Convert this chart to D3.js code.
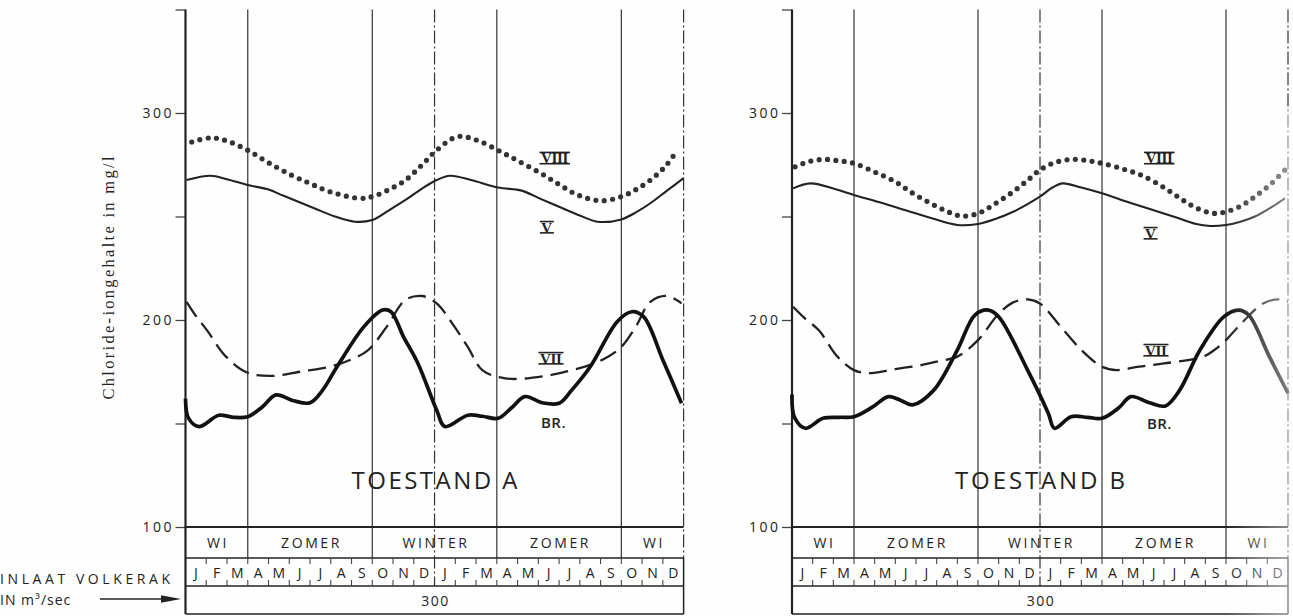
<!DOCTYPE html>
<html>
<head>
<meta charset="utf-8">
<script src="https://cdn.jsdelivr.net/npm/d3@7"></script>
<style>
  body { margin: 0; background: #fff; }
  svg text { font-family: "Open Sans", "DejaVu Sans", sans-serif; fill: #222; }
</style>
</head>
<body>
<svg id="chart" width="1293" height="616"></svg>
<script>
// ---- data (month index 0..24, chloride mg/l) ----
const monthLabels = ["J","F","M","A","M","J","J","A","S","O","N","D","J","F","M","A","M","J","J","A","S","O","N","D"];
const seasons = [["WI", 0, 3], ["ZOMER", 3, 9], ["WINTER", 9, 15], ["ZOMER", 15, 21], ["WI", 21, 24]];
const seasonBreaks = [3, 9, 15, 21];
const yearBreaks = [12, 24];
const yTicks = [100, 150, 200, 250, 300, 350];
const yLabelled = [100, 200, 300];
const inlaatValue = "300";

const a_VIII = [[0.3,286],[1.2,288],[2,286.5],[3,282],[4,276],[5.1,270],[6,266],[6.95,262],[8.4,258.8],[9,259.6],[9.8,263],[10.6,267.6],[11.4,275],[12.1,282],[13.1,288.6],[14,287],[15.06,282],[16,277],[17.1,271],[18,265.5],[18.9,260.4],[20,257.6],[21,259.6],[21.7,263],[22.4,267.6],[23.1,274],[23.7,282]];
const a_V = [[0.05,267.6],[1.2,269.7],[2,268],[3,265.2],[4,263],[4.73,260],[6.2,254],[7.2,250],[8.15,247.5],[9,248.3],[9.8,253],[10.6,258],[11.4,263.5],[12.1,267.6],[12.75,269.7],[13.8,267.5],[15.06,264],[16.2,262.5],[17,259],[18,254.7],[19,250.5],[19.85,247.5],[21,248.6],[21.7,252],[22.4,256.4],[23.2,262.5],[24,268.5]];
const a_VII = [[0.05,208.8],[0.5,202],[1.04,195],[1.95,182.3],[3,174.5],[4.2,173],[5.5,175],[6.95,177.4],[8,181],[8.8,185.5],[9.7,196.8],[10.6,209.7],[11.4,211.6],[12.1,208],[12.85,198.4],[13.6,187],[14.3,175.8],[15.4,171.8],[17.1,172.6],[18.5,175.5],[19.5,178.3],[20.4,182.5],[21,187],[21.7,196.8],[22.4,208.8],[23.2,211.6],[23.9,208]];
const a_BR = [[0,162],[0.15,152.5],[0.67,148.5],[1.6,154],[2.3,153],[3,153.3],[3.7,158],[4.36,163.8],[5.2,161],[6.0,160],[6.6,166],[7.3,177.4],[8.6,196.8],[9.5,204.8],[9.9,204],[10.5,192],[11.2,179],[12.1,156.5],[12.5,148.5],[13.6,154],[14.3,153.5],[15.06,152.5],[15.7,157.5],[16.35,163],[17.2,160],[18,159.8],[18.6,166],[19.5,177.4],[20.8,199.2],[21.5,204],[22.07,201.6],[23,180.7],[23.9,159.8]];

const b_VIII = [[0.15,274],[0.8,276.5],[1.5,277.6],[2.2,277],[3,275.7],[4,271.5],[5,266.8],[5.8,261.5],[6.7,256.4],[7.5,252.5],[8.2,250.2],[9,251.5],[9.8,256],[10.7,262],[11.4,267.5],[12,272.5],[12.7,276],[13.5,277.6],[14.3,277],[15,275.7],[16,273],[16.9,270],[18,264],[18.9,258],[19.6,254],[20.4,251.5],[21,252.3],[21.7,255],[22.4,259.6],[23.2,266],[23.85,272.5]];
const b_V = [[0.05,263.6],[0.9,266],[2,263.5],[3,260.4],[4.2,257],[5.5,253],[6.8,249],[8,245.9],[9,246.4],[9.9,249],[10.7,252.3],[11.4,256],[12,259.6],[12.6,264],[13.1,266],[14,264],[15,261.2],[16.1,257.5],[17.2,254],[18.6,249.5],[19.5,246.5],[20.25,245.4],[21,245.9],[21.7,247.5],[22.4,250],[23.2,254.5],[23.85,258.8]];
const b_VII = [[0.05,206.4],[0.6,201],[1.3,195],[2.2,182.3],[3,175.8],[3.7,174.3],[5,176.3],[6.3,178.3],[7.2,180.3],[8,182.3],[9,190.3],[10,203],[10.7,208.5],[11.4,210],[12,208],[13,196.8],[14,185.5],[15,177.4],[15.7,175.8],[16.8,177.5],[18,179],[19.9,182.3],[20.5,186],[21,190.3],[21.75,198.4],[22.8,208],[23.6,210],[24,208.8]];
const b_BR = [[0,164],[0.12,153],[0.65,147.7],[1.5,152.5],[2.3,153],[3,153.3],[3.9,158],[4.67,163],[5.3,161],[5.84,159],[6.85,166],[8.0,185.5],[8.85,202.4],[9.5,204.8],[10.0,201.6],[11.4,175.8],[12.4,155],[12.7,147.7],[13.5,153.3],[14.3,153],[15,152.5],[15.8,157.5],[16.4,163],[17.3,160],[18.07,158.5],[18.75,166],[19.74,185.5],[20.9,201.6],[21.6,204.8],[22.1,202.4],[23.1,182.3],[24,164.6]];

// curve labels, placed in data coordinates [month, value]
const a_labels = [["VIII", 17.78, 278.3, true], ["V", 17.4, 244.9, true], ["VII", 17.6, 181.6, true], ["BR.", 17.73, 150.7, false]];
const b_labels = [["VIII", 17.76, 278.3, true], ["V", 17.34, 242, true], ["VII", 17.6, 185.5, true], ["BR.", 17.78, 150.2, false]];

// ---- layout ----
const yTop = 9.5, yBase = 527, ySeason = 558, yMonth = 586, yBottom = 614;
const ink = "#222";

const panels = [
  { x0: 185.5, x1: 683.6, title: "TOESTAND A", titleW: 166, VIII: a_VIII, V: a_V, VII: a_VII, BR: a_BR, labels: a_labels },
  { x0: 792, x1: 1288, title: "TOESTAND B", titleW: 170, VIII: b_VIII, V: b_V, VII: b_VII, BR: b_BR, labels: b_labels }
];

const svg = d3.select("#chart");
svg.append("rect").attr("width", 1293).attr("height", 616).attr("fill", "#fefefe");

const y = d3.scaleLinear().domain([100, 350]).range([yBase, yTop]);

panels.forEach(function (p) {
  const x = d3.scaleLinear().domain([0, 24]).range([p.x0, p.x1]);
  const g = svg.append("g");

  // season grid lines (run down through season row)
  g.selectAll(".grid").data(seasonBreaks).enter().append("line")
    .attr("x1", d => x(d)).attr("x2", d => x(d))
    .attr("y1", yTop).attr("y2", ySeason)
    .attr("stroke", "#333").attr("stroke-width", 1.2);

  // year boundaries, dash-dot
  g.selectAll(".year").data(yearBreaks).enter().append("line")
    .attr("x1", d => x(d)).attr("x2", d => x(d))
    .attr("y1", yTop).attr("y2", d => d === 24 ? ySeason : yMonth)
    .attr("stroke", "#333").attr("stroke-width", 1.2)
    .attr("stroke-dasharray", "13,3,2,3");

  // y axis
  const axis = d3.axisLeft(y).tickValues(yTicks).tickSize(10).tickSizeOuter(0).tickPadding(4)
    .tickFormat(d => yLabelled.includes(d) ? String(d) : "");
  const ag = g.append("g").attr("transform", `translate(${p.x0},0)`).call(axis);
  ag.select(".domain").remove();
  ag.selectAll(".tick line").attr("stroke", "#444").attr("stroke-width", 1.3);
  ag.selectAll(".tick text").attr("font-size", 14).attr("fill", "#444")
    .style("letter-spacing", "2.5px").attr("dx", 2.5)
    .style("font-family", "'Open Sans', sans-serif");
  g.append("line").attr("x1", p.x0).attr("x2", p.x0).attr("y1", yTop).attr("y2", yBottom)
    .attr("stroke", ink).attr("stroke-width", 2.2);

  // base line at 100 and table boxes
  g.append("line").attr("x1", p.x0).attr("x2", p.x1).attr("y1", yBase).attr("y2", yBase)
    .attr("stroke", ink).attr("stroke-width", 2.2);
  [ySeason, yMonth, yBottom].forEach(function (yy) {
    g.append("line").attr("x1", p.x0).attr("x2", p.x1).attr("y1", yy).attr("y2", yy)
      .attr("stroke", ink).attr("stroke-width", 1.5);
  });
  g.append("line").attr("x1", p.x1).attr("x2", p.x1).attr("y1", ySeason).attr("y2", yBottom)
    .attr("stroke", ink).attr("stroke-width", 1.5);

  // month ticks
  const inner = d3.range(1, 24).filter(d => d !== 12);
  g.selectAll(".mt").data(inner).enter().append("line")
    .attr("x1", d => x(d)).attr("x2", d => x(d)).attr("y1", ySeason).attr("y2", ySeason + 6)
    .attr("stroke", "#444").attr("stroke-width", 1.1);
  g.selectAll(".mb").data(inner).enter().append("line")
    .attr("x1", d => x(d)).attr("x2", d => x(d)).attr("y1", yMonth - 6).attr("y2", yMonth)
    .attr("stroke", "#444").attr("stroke-width", 1.1);

  // season labels
  g.selectAll(".season").data(seasons).enter().append("text")
    .attr("x", d => x((d[1] + d[2]) / 2) + 1.5).attr("y", 548)
    .attr("text-anchor", "middle").attr("font-size", 14).style("letter-spacing", "2.6px")
    .text(d => d[0]);

  // month labels
  g.selectAll(".month").data(monthLabels).enter().append("text")
    .attr("x", (d, i) => x(i + 0.5)).attr("y", 577.5)
    .attr("text-anchor", "middle").attr("font-size", 14)
    .text(d => d);

  g.append("text").attr("x", x(12) + 1).attr("y", 605.5).attr("text-anchor", "middle")
    .attr("font-size", 14).style("letter-spacing", "1.5px").text(inlaatValue);

  // series
  const line = d3.line().x(d => x(d[0])).y(d => y(d[1])).curve(d3.curveCatmullRom.alpha(0.5));
  g.append("path").attr("d", line(p.VII)).attr("fill", "none").attr("stroke", ink)
    .attr("stroke-width", 2.3).attr("stroke-dasharray", "18,8");
  g.append("path").attr("d", line(p.V)).attr("fill", "none").attr("stroke", ink)
    .attr("stroke-width", 2.1);
  g.append("path").attr("d", line(p.BR)).attr("fill", "none").attr("stroke", "#111")
    .attr("stroke-width", 3.7).attr("stroke-linejoin", "round");
  g.append("path").attr("d", line(p.VIII)).attr("fill", "none").attr("stroke", "#333")
    .attr("stroke-width", 5.2).attr("stroke-linecap", "round").attr("stroke-dasharray", "0,8.4");

  // curve labels
  p.labels.forEach(function (l) {
    const cx = x(l[1]), cy = y(l[2]);
    if (l[3]) {
      const t = g.append("text").attr("x", cx).attr("y", cy + 5.5)
        .attr("text-anchor", "middle").attr("font-size", 15).attr("font-weight", "bold")
        .style("font-family", "'Liberation Serif', serif").attr("fill", "#222")
        .style("letter-spacing", "-0.3px").text(l[0]);
      const bb = t.node().getBBox();
      [cy - 5.5, cy + 5.8].forEach(function (yy) {
        g.append("line").attr("x1", bb.x - 1.5).attr("x2", bb.x + bb.width + 1.5)
          .attr("y1", yy).attr("y2", yy).attr("stroke", "#222").attr("stroke-width", 1.6);
      });
    } else {
      g.append("text").attr("x", cx).attr("y", cy + 5.5).attr("text-anchor", "middle")
        .attr("font-size", 15).attr("font-weight", 600).style("letter-spacing", "0.5px")
        .text(l[0]);
    }
  });

  // panel title
  g.append("text").attr("x", x(12)).attr("y", 489).attr("text-anchor", "middle")
    .attr("font-size", 24).attr("textLength", p.titleW).attr("lengthAdjust", "spacing")
    .attr("fill", "#2a2a2a").text(p.title);
});

// left-hand labels
svg.append("text").attr("text-anchor", "middle")
  .attr("transform", "rotate(-90,107.5,278)").attr("x", 107.5).attr("y", 284)
  .attr("font-size", 16.5).attr("textLength", 243).attr("lengthAdjust", "spacing")
  .style("font-family", "'Liberation Serif', serif").attr("fill", "#3a3a3a")
  .text("Chloride-iongehalte in mg/l");

svg.append("text").attr("x", 0).attr("y", 584).attr("font-size", 14)
  .attr("textLength", 170).attr("lengthAdjust", "spacing").text("INLAAT VOLKERAK");
svg.append("text").attr("x", 0).attr("y", 605).attr("font-size", 14)
  .style("letter-spacing", "1px").text("IN m³/sec");
svg.append("line").attr("x1", 100).attr("x2", 166).attr("y1", 599).attr("y2", 599)
  .attr("stroke", ink).attr("stroke-width", 1.4);
svg.append("path").attr("d", "M161,595.3 L181,599 L161,602.7 Z").attr("fill", ink);

// faded print at the right edge
const grad = svg.append("defs").append("linearGradient").attr("id", "fade")
  .attr("x1", "0").attr("x2", "1").attr("y1", "0").attr("y2", "0");
grad.append("stop").attr("offset", "0%").attr("stop-color", "#fff").attr("stop-opacity", 0);
grad.append("stop").attr("offset", "100%").attr("stop-color", "#fff").attr("stop-opacity", 0.5);
svg.append("rect").attr("x", 1225).attr("y", 110).attr("width", 68).attr("height", 506)
  .attr("fill", "url(#fade)");
</script>
</body>
</html>
